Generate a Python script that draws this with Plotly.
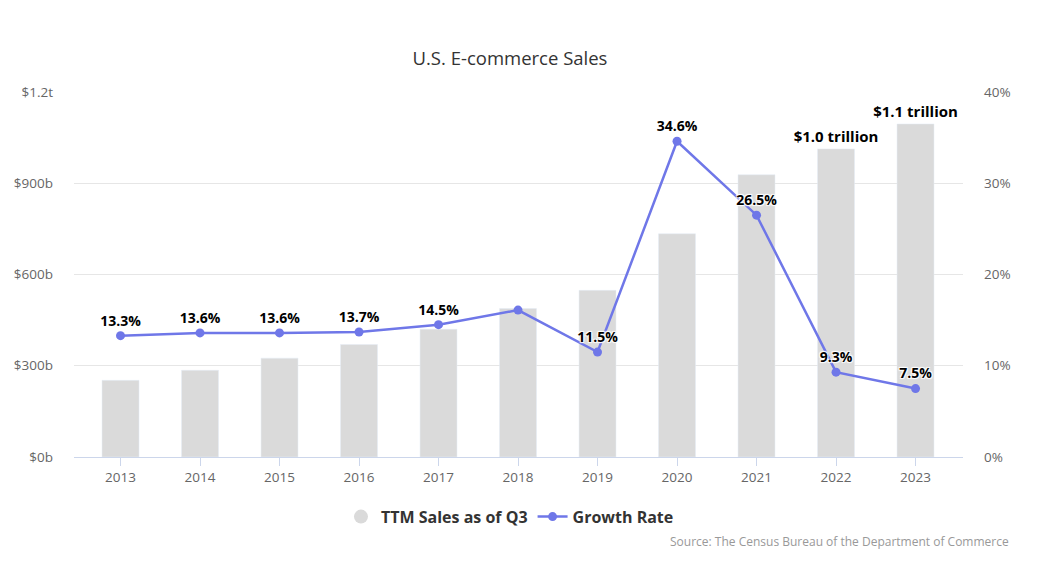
import plotly.graph_objects as go

years = ["2013", "2014", "2015", "2016", "2017", "2018", "2019", "2020", "2021", "2022", "2023"]
sales_b = [252, 285, 325, 370, 420, 488, 548, 734, 928, 1013, 1095]
sales_labels = ["", "", "", "", "", "", "", "", "", "$1.0 trillion", "$1.1 trillion"]
growth = [13.3, 13.6, 13.6, 13.7, 14.5, 16.1, 11.5, 34.6, 26.5, 9.3, 7.5]
growth_labels = ["13.3%", "13.6%", "13.6%", "13.7%", "14.5%", "", "11.5%", "34.6%", "26.5%", "9.3%", "7.5%"]

left_ticks = [0, 300, 600, 900, 1200]
left_tick_text = ["$0b", "$300b", "$600b", "$900b", "$1.2t"]
right_ticks = [0, 10, 20, 30, 40]
right_tick_text = ["0%", "10%", "20%", "30%", "40%"]

FONT = "Open Sans, DejaVu Sans, sans-serif"
BAR_COLOR = "#dadada"
LINE_COLOR = "#6f77e8"

fig = go.Figure()
fig.add_trace(go.Bar(
    x=years, y=sales_b, name="TTM Sales as of Q3", marker_color=BAR_COLOR,
    text=sales_labels, textposition="outside", cliponaxis=False, constraintext="none",
    textfont=dict(family=FONT, size=15, color="#000000", weight="bold"),
    width=0.465, showlegend=False, yaxis="y",
))
fig.add_trace(go.Scatter(
    x=[None], y=[None], mode="markers", name="TTM Sales as of Q3",
    marker=dict(symbol="circle", size=14, color=BAR_COLOR), yaxis="y",
))
fig.add_trace(go.Scatter(
    x=years, y=growth, name="Growth Rate", mode="lines+markers+text",
    line=dict(color=LINE_COLOR, width=2.5), marker=dict(size=9, color=LINE_COLOR),
    text=growth_labels, textposition="top center", cliponaxis=False,
    textfont=dict(family=FONT, size=14, color="#000000", weight="bold", shadow="auto"),
    yaxis="y2",
))

fig.update_layout(
    width=1038, height=562,
    margin=dict(l=66, r=83, t=84, b=113, autoexpand=False),
    paper_bgcolor="white", plot_bgcolor="white",
    font=dict(family=FONT, color="#666666", size=12),
    title=dict(text="U.S. E-commerce Sales", x=0.4836, xanchor="center", y=1 - 51 / 562, yanchor="middle",
               font=dict(family=FONT, size=18.5, color="#333333")),
    xaxis=dict(type="category", range=[-0.585, 10.597], showline=True, linecolor="#ccd6eb",
               ticks="outside", tickcolor="#ccd6eb", ticklen=8,
               tickfont=dict(size=13.5, color="#666666"), showgrid=False, automargin=False),
    yaxis=dict(range=[0, 1200], tickvals=left_ticks, ticktext=left_tick_text,
               showgrid=True, gridcolor="#e6e6e6", zeroline=False, automargin=False,
               tickfont=dict(size=13.5, color="#666666"), ticklabelstandoff=20),
    yaxis2=dict(range=[0, 40], tickvals=right_ticks, ticktext=right_tick_text,
                overlaying="y", side="right", showgrid=False, zeroline=False, automargin=False,
                tickfont=dict(size=13.5, color="#666666"), ticklabelstandoff=20),
    legend=dict(orientation="h", x=0.4904, xanchor="center", y=-0.117, yanchor="top",
                font=dict(family=FONT, size=16, color="#333333", weight="bold"),
                itemwidth=30),
    annotations=[dict(text="Source: The Census Bureau of the Department of Commerce",
                      xref="paper", yref="paper", x=1.0537, y=-0.204, xanchor="right",
                      yanchor="top", showarrow=False,
                      font=dict(family=FONT, size=12, color="#999999"))],
)

fig.write_html("out.html")
